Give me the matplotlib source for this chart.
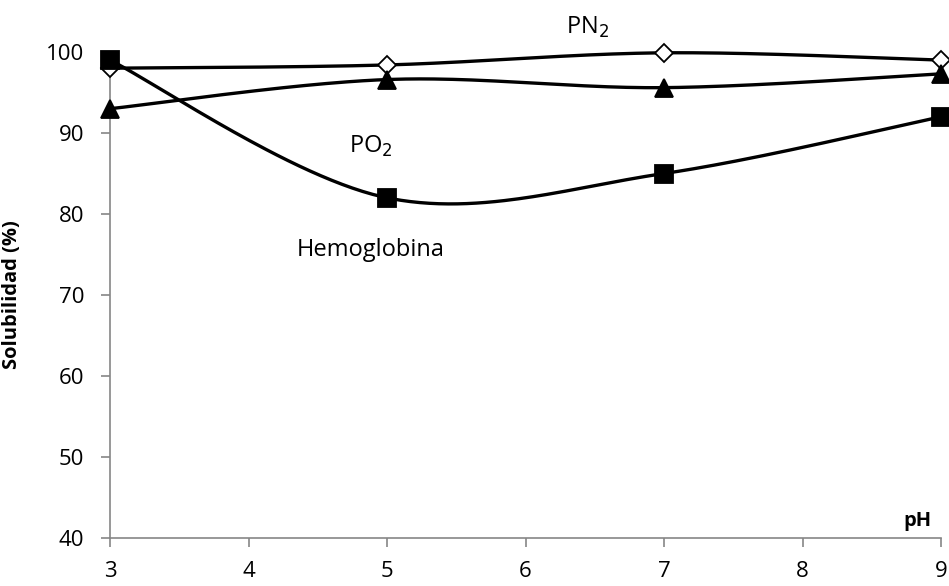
import numpy as np
import matplotlib
matplotlib.use("Agg")
import matplotlib.pyplot as plt

ph = [3, 5, 7, 9]
pn2 = [98.0, 98.4, 99.9, 99.0]
po2 = [93.0, 96.6, 95.6, 97.3]
hemo = [99.0, 82.0, 85.0, 92.0]
xticks = [3, 4, 5, 6, 7, 8, 9]
yticks = [40, 50, 60, 70, 80, 90, 100]

plt.rcParams['font.family'] = ['Open Sans', 'DejaVu Sans']


def smooth(x, y, n=60):
    x = np.asarray(x, float); y = np.asarray(y, float)
    px = np.concatenate([[x[0]], x, [x[-1]]])
    py = np.concatenate([[y[0]], y, [y[-1]]])
    xs, ys = [], []
    t = np.linspace(0, 1, n)
    for i in range(1, len(px) - 2):
        p0 = np.array([px[i], py[i]]); p3 = np.array([px[i + 1], py[i + 1]])
        c1 = p0 + (np.array([px[i + 1], py[i + 1]]) - np.array([px[i - 1], py[i - 1]])) / 6
        c2 = p3 - (np.array([px[i + 2], py[i + 2]]) - np.array([px[i], py[i]])) / 6
        b = ((1 - t) ** 3)[:, None] * p0 + (3 * (1 - t) ** 2 * t)[:, None] * c1 + \
            (3 * (1 - t) * t ** 2)[:, None] * c2 + (t ** 3)[:, None] * p3
        xs.extend(b[:, 0]); ys.extend(b[:, 1])
    return xs, ys


fig = plt.figure(figsize=(9.49, 5.86), dpi=100)
ax = fig.add_axes([110 / 949, 48 / 586, 831 / 949, 486 / 586])

lw = 2.4
for ydata, mk, fc, ms in [(pn2, 'D', 'white', 9), (po2, '^', 'black', 12.5), (hemo, 's', 'black', 12.5)]:
    sx, sy = smooth(ph, ydata)
    ax.plot(sx, sy, color='black', lw=lw, clip_on=False, zorder=3)
    ax.plot(ph, ydata, linestyle='none', marker=mk, markersize=ms, markerfacecolor=fc,
            markeredgecolor='black', markeredgewidth=1.3, clip_on=False, zorder=4)

ax.set_xlim(3, 9)
ax.set_ylim(40, 100)
ax.set_xticks(xticks)
ax.set_yticks(yticks)
ax.tick_params(axis='both', labelsize=16, color='#868686', length=6.5, width=1.2)
ax.tick_params(axis='y', pad=12)
ax.tick_params(axis='x', pad=10)
for s in ['top', 'right']:
    ax.spines[s].set_visible(False)
for s in ['left', 'bottom']:
    ax.spines[s].set_color('#868686')
    ax.spines[s].set_linewidth(1.2)

ax.set_ylabel('Solubilidad (%)', fontsize=14.5, fontweight='bold')
ax.yaxis.set_label_coords(-0.106, 0.5)
ax.text(8.83, 40.9, 'pH', fontsize=14.5, fontweight='bold', ha='center', va='bottom')

ax.text(6.45, 103, 'PN$_2$', fontsize=17, ha='center', va='center')
ax.text(4.88, 88.4, 'PO$_2$', fontsize=17, ha='center', va='center')
ax.text(4.88, 75.5, 'Hemoglobina', fontsize=17, ha='center', va='center')

fig.savefig('out.png', dpi=100)
